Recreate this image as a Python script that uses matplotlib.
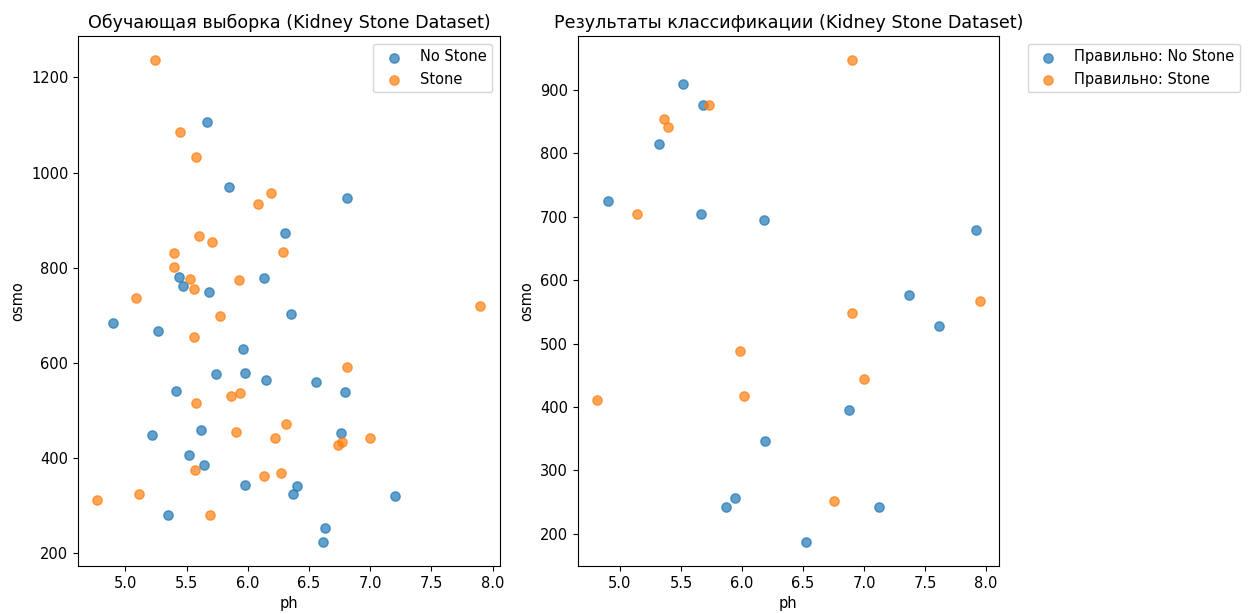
import matplotlib
matplotlib.use("Agg")
import matplotlib.pyplot as plt

plt.rcParams["font.size"] = 10.5

# training sample (left panel)
train_no_ph = [5.67, 5.85, 6.81, 6.30, 5.44, 6.13, 5.47, 5.68,
               6.35, 4.90, 5.27, 5.96, 5.74, 5.98, 6.15, 6.56, 5.41, 6.79,
               5.62, 5.22, 6.76, 5.52, 5.64, 5.98, 6.40, 6.37, 7.20, 5.35,
               6.63, 6.61]
train_no_osmo = [1107, 970, 947, 873, 780, 778, 761, 749,
                 703, 683, 667, 629, 576, 579, 563, 559, 541, 539,
                 459, 448, 453, 406, 384, 342, 340, 324, 320, 280,
                 252, 223]
train_st_ph = [5.24, 5.45, 5.58, 6.19, 6.08, 5.60, 5.71, 6.29, 5.40, 5.40,
               5.53, 5.93, 5.56, 5.09, 7.90,
               5.77, 5.56, 6.81, 5.94, 5.86, 5.58, 6.31, 5.90, 6.22, 7.00,
               6.77, 6.74, 5.57, 6.27, 6.13, 5.11, 4.77, 5.69]
train_st_osmo = [1236, 1085, 1032, 957, 933, 866, 853, 833, 831, 801,
                 776, 773, 755, 736, 720,
                 698, 655, 591, 537, 530, 515, 471, 454, 442, 442,
                 434, 426, 375, 369, 361, 324, 312, 280]

# correctly classified test points (right panel)
test_no_ph = [5.52, 5.68, 5.32, 4.90, 5.66, 6.18, 7.92, 7.37, 7.61,
              6.88, 6.19, 5.94, 5.87, 7.12, 6.52]
test_no_osmo = [909, 877, 815, 725, 704, 695, 680, 577, 528,
                395, 346, 257, 242, 242, 187]
test_st_ph = [6.90, 5.73, 5.36, 5.39, 5.14, 7.95, 6.90, 5.98, 7.00,
              6.02, 4.81, 6.75]
test_st_osmo = [947, 876, 854, 841, 704, 568, 549, 488, 444,
                417, 411, 252]

fig, (ax1, ax2) = plt.subplots(1, 2, figsize=(12.49, 6.14), dpi=100)
fig.subplots_adjust(left=0.0625, right=0.80, bottom=0.078, top=0.941, wspace=0.185)

ax1.scatter(train_no_ph, train_no_osmo, alpha=0.7, s=45, label="No Stone")
ax1.scatter(train_st_ph, train_st_osmo, alpha=0.7, s=45, label="Stone")
ax1.set_title("Обучающая выборка (Kidney Stone Dataset)")
ax1.set_xlabel("ph")
ax1.set_ylabel("osmo")
ax1.legend(loc="upper right")

ax2.scatter(test_no_ph, test_no_osmo, alpha=0.7, s=45, label="Правильно: No Stone")
ax2.scatter(test_st_ph, test_st_osmo, alpha=0.7, s=45, label="Правильно: Stone")
ax2.set_title("Результаты классификации (Kidney Stone Dataset)")
ax2.set_xlabel("ph")
ax2.set_ylabel("osmo")
ax2.legend(bbox_to_anchor=(1.05, 1), loc="upper left")

fig.savefig("out.png")
